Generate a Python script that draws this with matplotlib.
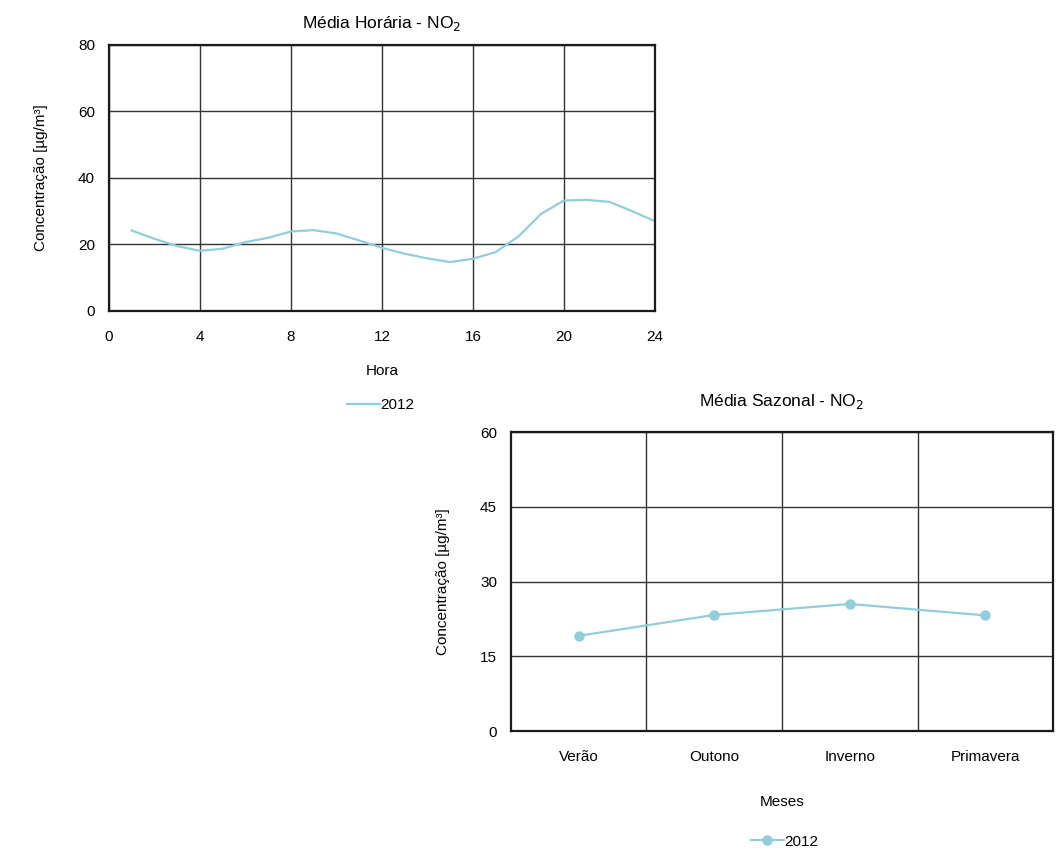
import matplotlib.pyplot as plt

plt.rcParams['font.family'] = ['Liberation Sans Narrow', 'Liberation Sans', 'DejaVu Sans']

# -------------------------------
# dados
# -------------------------------
horas = list(range(1, 25))
no2_horaria = [24.2, 21.7, 19.5, 18.1, 18.7, 20.7, 22.0, 23.9, 24.3, 23.3, 21.2, 19.0,
               17.2, 15.8, 14.7, 15.7, 17.7, 22.4, 29.2, 33.2, 33.4, 32.8, 30.0, 27.0]

estacoes = ["Verão", "Outono", "Inverno", "Primavera"]
no2_sazonal = [19.1, 23.3, 25.5, 23.2]

cor = '#92CDDC'
ylabel = "Concentração [µg/m³]"

fig = plt.figure(figsize=(10.63, 8.51), dpi=100)

# -------------------------------
# 1. Média horária
# -------------------------------
ax1 = fig.add_axes([0.1025, 0.6346, 0.5136, 0.3126])
ax1.plot(horas, no2_horaria, color=cor, lw=1.6, label="2012")
ax1.set_xlim(0, 24)
ax1.set_ylim(0, 80)
ax1.set_xticks(range(0, 25, 4))
ax1.set_yticks(range(0, 81, 20))
ax1.set_title("Média Horária - NO$_2$", fontsize=12.5, pad=12)
ax1.set_xlabel("Hora", fontsize=11, labelpad=14)
ax1.set_ylabel(ylabel, fontsize=11, labelpad=22)
ax1.legend(loc='center', bbox_to_anchor=(0.358, 0.524), bbox_transform=fig.transFigure,
           frameon=False, fontsize=11, handlelength=2.2, handletextpad=0.0)

# -------------------------------
# 2. Média sazonal
# -------------------------------
ax2 = fig.add_axes([0.4807, 0.141, 0.5099, 0.3513])
pos = list(range(len(estacoes)))
ax2.plot(pos, no2_sazonal, color=cor, lw=1.6, marker='o', ms=6.5, label="2012")
ax2.set_xlim(-0.5, len(estacoes) - 0.5)
ax2.set_ylim(0, 60)
ax2.set_xticks(pos)
ax2.set_xticklabels(estacoes)
ax2.set_xticks([0.5, 1.5, 2.5], minor=True)
ax2.set_yticks(range(0, 61, 15))
ax2.set_title("Média Sazonal - NO$_2$", fontsize=12.5, pad=19)
ax2.set_xlabel("Meses", fontsize=11, labelpad=22)
ax2.set_ylabel(ylabel, fontsize=11, labelpad=22)
ax2.legend(loc='center', bbox_to_anchor=(0.738, 0.011), bbox_transform=fig.transFigure,
           frameon=False, fontsize=11, handlelength=2.2, handletextpad=0.0)
ax2.grid(True, which='minor', axis='x', color='#333333', lw=1)
ax2.grid(True, which='major', axis='y', color='#333333', lw=1)

ax1.grid(True, color='#333333', lw=1)

for ax in (ax1, ax2):
    ax.set_axisbelow(True)
    ax.tick_params(which='both', length=0, labelsize=11)
    ax.tick_params(axis='y', pad=10)
    for s in ax.spines.values():
        s.set_color('#1a1a1a')
        s.set_linewidth(1.6)

ax1.tick_params(axis='x', pad=14)
ax2.tick_params(axis='x', pad=14)

plt.savefig("out.png")
